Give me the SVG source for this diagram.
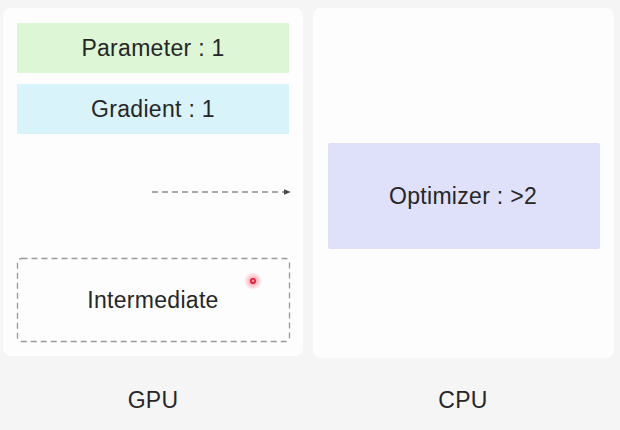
<svg xmlns="http://www.w3.org/2000/svg" width="620" height="430" viewBox="0 0 620 430">
<defs>
<style>
.lbl{font-family:"Liberation Sans",Arial,sans-serif;font-size:23px;letter-spacing:0.3px;fill:#262626;text-anchor:middle}
.panel{fill:#fdfdfd}
</style>
<marker id="ah" viewBox="0 0 10 10" refX="9" refY="5" markerWidth="7" markerHeight="7" orient="auto" markerUnits="userSpaceOnUse">
<path d="M0,1 L10,5 L0,9 Z" fill="#444"/>
</marker>
<radialGradient id="glow"><stop offset="0" stop-color="#ff5a6a" stop-opacity="0.7"/><stop offset="1" stop-color="#ff5a6a" stop-opacity="0"/></radialGradient>
</defs>
<rect x="0" y="0" width="620" height="430" fill="#f5f5f5"/>
<g id="gpu-panel"><rect class="panel" x="3" y="8" width="300" height="348" rx="8"/></g>
<g id="cpu-panel"><rect class="panel" x="313" y="8" width="301" height="350" rx="8"/></g>
<g id="parameter"><rect x="17" y="23" width="272" height="50" fill="#dcf6d6"/><text class="lbl" x="153" y="56">Parameter : 1</text></g>
<g id="gradient"><rect x="17" y="84" width="272" height="50" fill="#d9f3fb"/><text class="lbl" x="153" y="117">Gradient : 1</text></g>
<g id="intermediate"><rect x="17.5" y="258.5" width="272" height="83" rx="4" fill="none" stroke="#999" stroke-width="1.3" stroke-dasharray="6,4"/><text class="lbl" x="153" y="308">Intermediate</text></g>
<g id="optimizer"><rect x="328" y="143" width="272" height="106" rx="2" fill="#dfe1fb"/><text class="lbl" x="463" y="204">Optimizer : &gt;2</text></g>
<g id="connectors"><line x1="152" y1="192" x2="290" y2="192" stroke="#555" stroke-width="1.2" stroke-dasharray="6,4" marker-end="url(#ah)"/></g>
<g id="labels"><text class="lbl" x="153" y="408">GPU</text><text class="lbl" x="463" y="408">CPU</text></g>
<circle cx="253" cy="281" r="9" fill="url(#glow)"/>
<circle cx="253" cy="281" r="2.2" fill="none" stroke="#e0102a" stroke-width="1.5"/>
</svg>
